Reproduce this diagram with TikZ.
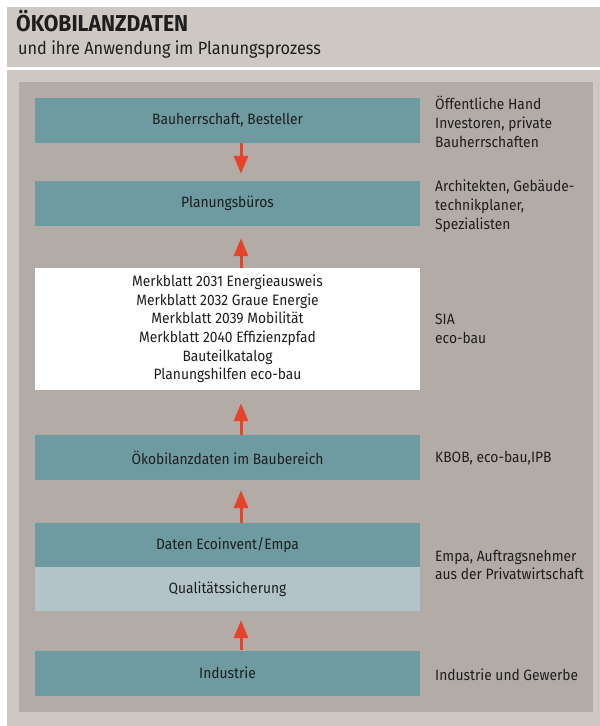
\documentclass[tikz,border=0pt]{standalone}
\usepackage{fontspec}
\setmainfont{Fira Sans}[FakeStretch=0.92]
\usetikzlibrary{arrows.meta,calc}
\definecolor{outerbg}{HTML}{CDC9C2}
\definecolor{panel}{HTML}{B3ACA6}
\definecolor{teal}{HTML}{6E9AA1}
\definecolor{lteal}{HTML}{B2C4C8}
\definecolor{arrred}{HTML}{E5432A}
\definecolor{txt}{HTML}{1E1E1E}
\tikzset{
  box/.style={rectangle, fill=teal, minimum width=385pt, minimum height=45pt, inner sep=0pt, text=txt, font=\fontsize{15}{17}\selectfont},
  lbox/.style={box, fill=lteal},
  wbox/.style={rectangle, fill=white, minimum width=385pt, minimum height=122pt, inner sep=0pt, text=txt, align=center, font=\fontsize{15}{18.6}\selectfont},
  side/.style={anchor=west, align=left, inner sep=0pt, text=txt, font=\fontsize{15}{18.8}\selectfont},
  arr/.style={draw=arrred, line width=3pt, -{Triangle[length=18pt,width=14pt]}, arrred}
}
\begin{document}
\begin{tikzpicture}[x=1pt,y=-1pt]
\useasboundingbox (0,0) rectangle (600,726);
\fill[white] (0,0) rectangle (600,726);
\fill[outerbg] (7,7) rectangle (600,67);
\fill[outerbg] (7,70) rectangle (600,726);
\fill[panel] (19,82) rectangle (593,712);
\node[anchor=base west, inner sep=0pt, text=txt, font=\fontsize{23}{26}\selectfont\bfseries] (title) at (16,31) {ÖKOBILANZDATEN};
\node[anchor=base west, inner sep=0pt, text=txt, font=\fontsize{17.7}{20}\selectfont] (sub) at (18,54) {und ihre Anwendung im Planungsprozess};

\coordinate (ax) at (241,0);
\node[box] (bau) at (227.5,120.5) {Bauherrschaft, Besteller};
\node[box] (plan) at (227.5,203.5) {Planungsbüros};
\node[wbox] (merk) at (227.5,329) {Merkblatt 2031 Energieausweis\\Merkblatt 2032 Graue Energie\\Merkblatt 2039 Mobilität\\Merkblatt 2040 Effizienzpfad\\Bauteilkatalog\\Planungshilfen eco-bau};
\node[box] (oeko) at (227.5,457.5) {Ökobilanzdaten im Baubereich};
\node[box, minimum height=44pt] (daten) at (227.5,545) {Daten Ecoinvent/Empa};
\node[lbox, minimum height=44pt] (qual) at (227.5,589) {Qualitätssicherung};
\node[box] (ind) at (227.5,673) {Industrie};

\node[side] (s1) at (435,122) {Öffentliche Hand\\Investoren, private\\Bauherrschaften};
\node[side] (s2) at (435,206) {Architekten, Gebäude-\\technikplaner,\\Spezialisten};
\node[side] (s3) at (435,329) {SIA\\eco-bau};
\node[side] (s4) at (435,458) {KBOB, eco-bau,IPB};
\node[side] (s5) at (435,565) {Empa, Auftragsnehmer\\aus der Privatwirtschaft};
\node[side] (s6) at (435,675) {Industrie und Gewerbe};

\draw[arr, shorten >=7pt] (bau.south -| ax) -- (plan.north -| ax);
\draw[arr, shorten >=12pt] (merk.north -| ax) -- (plan.south -| ax);
\draw[arr, shorten >=13pt] (oeko.north -| ax) -- (merk.south -| ax);
\draw[arr, shorten >=10pt] (daten.north -| ax) -- (oeko.south -| ax);
\draw[arr, shorten >=9pt] (ind.north -| ax) -- (qual.south -| ax);
\end{tikzpicture}
\end{document}
